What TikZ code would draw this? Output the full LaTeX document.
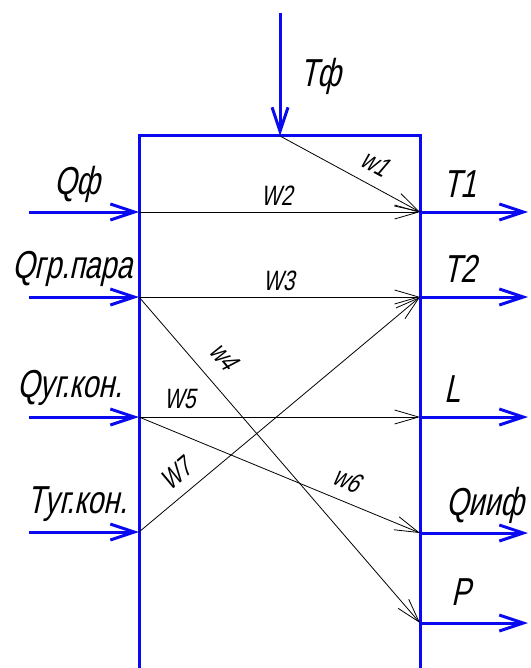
\documentclass[tikz,border=0pt]{standalone}
\usepackage{fontspec}
\newfontfamily\gost{Liberation Sans}[FakeSlant=0.22,FakeStretch=0.74]
\usetikzlibrary{arrows.meta}
\definecolor{gblue}{RGB}{10,10,240}
\tikzset{
  blueline/.style={draw=gblue,line width=3pt},
  bluearrow/.style={draw=gblue,line width=3pt,-{Straight Barb[length=24pt,width=16pt]}},
  flow/.style={draw=black,line width=0.8pt,-{Straight Barb[length=24pt,width=14pt]}},
  biglabel/.style={font=\gost\fontsize{39}{39}\selectfont,inner sep=0pt},
  smalllabel/.style={font=\gost\fontsize{28}{28}\selectfont,inner sep=0pt},
}
\begin{document}
\begin{tikzpicture}[x=1pt,y=-1pt]
\useasboundingbox (0,0) rectangle (530,668);
% box
\coordinate (bl) at (139,668);
\coordinate (tl) at (139,136);
\coordinate (tr) at (420,136);
\coordinate (br) at (420,668);
\draw[blueline] (bl) -- (tl) -- (tr) -- (br);
% top input
\coordinate (tfs) at (280,13);
\coordinate (tf) at (280,136);
\draw[bluearrow] (tfs) -- (tf);
% left inputs
\coordinate (a1) at (29,212);  \coordinate (i1) at (139,212);
\coordinate (a2) at (29,297);  \coordinate (i2) at (139,297);
\coordinate (a3) at (29,417);  \coordinate (i3) at (139,417);
\coordinate (a4) at (29,532);  \coordinate (i4) at (139,532);
\draw[bluearrow] (a1) -- (i1);
\draw[bluearrow] (a2) -- (i2);
\draw[bluearrow] (a3) -- (i3);
\draw[bluearrow] (a4) -- (i4);
% right outputs
\coordinate (o1) at (420,212); \coordinate (e1) at (528,212);
\coordinate (o2) at (420,297); \coordinate (e2) at (528,297);
\coordinate (o3) at (420,417); \coordinate (e3) at (528,417);
\coordinate (o4) at (420,533); \coordinate (e4) at (528,533);
\coordinate (o5) at (420,623); \coordinate (e5) at (528,623);
\draw[bluearrow] (o1) -- (e1);
\draw[bluearrow] (o2) -- (e2);
\draw[bluearrow] (o3) -- (e3);
\draw[bluearrow] (o4) -- (e4);
\draw[bluearrow] (o5) -- (e5);
% internal flows
\draw[flow] (tf) -- (o1);
\draw[flow] (i1) -- (o1);
\draw[flow] (i2) -- (o2);
\draw[flow] (i2) -- (o5);
\draw[flow] (i3) -- (o3);
\draw[flow] (i3) -- (o4);
\draw[flow] (i4) -- (o2);
% labels
\node[biglabel,anchor=base west] (lTf) at (300,87) {Tф};
\node[biglabel,anchor=base west] (lQf) at (54,195) {Qф};
\node[biglabel,anchor=base west] (lQgr) at (12,278) {Qгр.пара};
\node[biglabel,anchor=base west] (lQug) at (17,397) {Qуг.кон.};
\node[biglabel,anchor=base west] (lTug) at (27,513) {Tуг.кон.};
\node[biglabel,anchor=base west] (lT1) at (443,197) {T1};
\node[biglabel,anchor=base west] (lT2) at (443,282) {T2};
\node[biglabel,anchor=base west] (lL) at (444,402) {L};
\node[biglabel,anchor=base west] (lQiif) at (446,515) {Qииф};
\node[biglabel,anchor=base west] (lP) at (451,605) {P};
\node[smalllabel,anchor=base west] (lW2) at (261,205) {W2};
\node[smalllabel,anchor=base west] (lW3) at (263,290) {W3};
\node[smalllabel,anchor=base west] (lW5) at (164,408) {W5};
\node[smalllabel,rotate=-28] (lw1) at (375,163) {w1};
\node[smalllabel,rotate=-50] (lw4) at (224,356) {w4};
\node[smalllabel,rotate=-22] (lw6) at (347,480) {w6};
\node[smalllabel,rotate=40] (lW7) at (176,474) {W7};
\end{tikzpicture}
\end{document}
